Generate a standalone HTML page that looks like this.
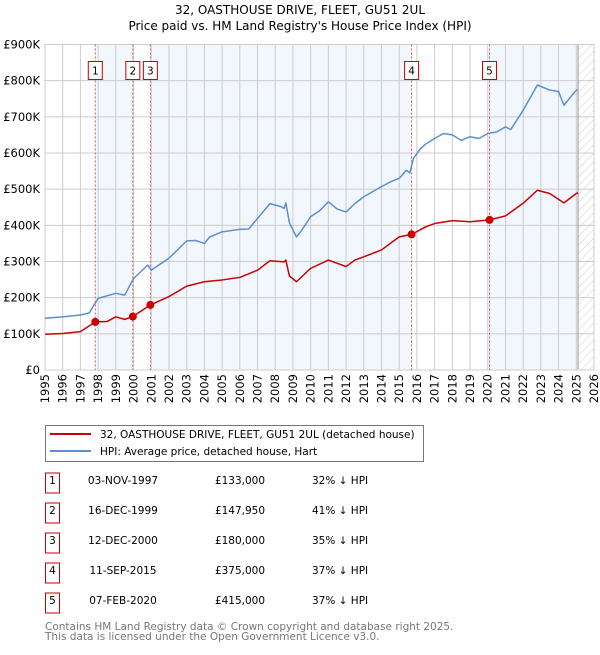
<!DOCTYPE html>
<html><head><meta charset="utf-8"><style>
body{margin:0;background:#fff;font-family:"Liberation Sans","DejaVu Sans",sans-serif;}
svg text{font-family:"DejaVu Sans","Liberation Sans",sans-serif;}
</style></head><body>
<svg id="c" width="600" height="650" xmlns="http://www.w3.org/2000/svg">
<defs><pattern id="hatch" width="6" height="6" patternUnits="userSpaceOnUse" patternTransform="rotate(45)"><line x1="0" y1="0" x2="0" y2="6" stroke="#ccc" stroke-width="1"/></pattern></defs>
<text x="300" y="14" text-anchor="middle" font-size="12">32, OASTHOUSE DRIVE, FLEET, GU51 2UL</text>
<text x="300" y="30" text-anchor="middle" font-size="12">Price paid vs. HM Land Registry's House Price Index (HPI)</text>
<g id="plot"></g>
<g>
<rect x="45.5" y="425.5" width="378" height="36" fill="#fff" stroke="#777"/>
<line x1="50" y1="434" x2="91" y2="434" stroke="#cc0000" stroke-width="2"/>
<text x="100" y="438" font-size="10.5">32, OASTHOUSE DRIVE, FLEET, GU51 2UL (detached house)</text>
<line x1="50" y1="451" x2="91" y2="451" stroke="#5b8fd0" stroke-width="2"/>
<text x="100" y="455" font-size="10.5">HPI: Average price, detached house, Hart</text>
</g>
<g id="table" font-size="10.5"></g>
<text x="45" y="630" font-size="10.5" fill="#777">Contains HM Land Registry data © Crown copyright and database right 2025.</text>
<text x="45" y="640" font-size="10.5" fill="#777">This data is licensed under the Open Government Licence v3.0.</text>
</svg>
<script>
const hpiYears=[1995,1996,1997,1997.5,1998,1999,1999.5,2000,2000.8,2001,2002,2003,2003.5,2004,2004.3,2005,2006,2006.5,2007,2007.7,2008.3,2008.5,2008.6,2008.8,2009.2,2009.5,2010,2010.5,2011,2011.5,2012,2012.5,2013,2014,2014.5,2015,2015.4,2015.6,2015.8,2016.2,2016.5,2017,2017.5,2018,2018.5,2019,2019.5,2020,2020.5,2021,2021.3,2022,2022.8,2023.5,2024,2024.3,2025,2025.1];
const hpiValues=[143,147,152,158,198,212,207,253,290,276,309,357,358,350,368,382,389,390,419,460,452,447,462,407,368,387,424,440,465,445,437,460,479,507,520,530,552,545,585,612,625,640,654,650,635,645,640,654,658,672,665,718,788,774,770,732,774,774];
const redYears=[1995,1996,1997,1997.84,1998.5,1999,1999.5,1999.96,2000.95,2002,2003,2004,2005,2006,2007,2007.7,2008.5,2008.6,2008.8,2009.2,2010,2011,2011.5,2012,2012.5,2013,2014,2015,2015.7,2016.5,2017,2018,2019,2020.1,2021,2022,2022.8,2023.5,2024.3,2025,2025.1];
const redValues=[99,101,106,133,134,147,140,148,180,203,232,244,249,256,276,302,299,304,260,244,281,304,295,286,304,313,332,368,375,396,405,413,410,415,426,461,497,488,462,488,490];
const saleYears=[1997.84,1999.96,2000.95,2015.7,2020.1];
const saleValues=[133,147.95,180,375,415];
const saleLabels=["1","2","3","4","5"];
const saleDates=["03-NOV-1997","16-DEC-1999","12-DEC-2000","11-SEP-2015","07-FEB-2020"];
const salePrices=["£133,000","£147,950","£180,000","£375,000","£415,000"];
const salePct=["32% ↓ HPI","41% ↓ HPI","35% ↓ HPI","37% ↓ HPI","37% ↓ HPI"];
const yTicks=[0,100,200,300,400,500,600,700,800,900];
const yTickLabels=["£0","£100K","£200K","£300K","£400K","£500K","£600K","£700K","£800K","£900K"];

const NS="http://www.w3.org/2000/svg";
const X0=45,X1=594,Y0=370,Y1=44.5;
const x=y=>X0+(y-1995)/(2026-1995)*(X1-X0);
const yv=v=>Y0-v/900*(Y0-Y1);
function mk(t,a,p){const e=document.createElementNS(NS,t);for(const k in a)e.setAttribute(k,a[k]);p.appendChild(e);return e;}
const P=document.getElementById('plot');
const bands=[[saleYears[0],saleYears[1]],[saleYears[2],saleYears[3]],[saleYears[4],2025.1]];
bands.forEach((b,i)=>{const r=mk('rect',{x:x(b[0]),y:Y1,width:x(b[1])-x(b[0]),height:Y0-Y1,fill:'#f2f6fd'},P);

});
const hr=mk('rect',{x:x(2025.1),y:Y1,width:X1-x(2025.1),height:Y0-Y1,fill:'url(#hatch)'},P);


for(let yr=1995;yr<=2026;yr++){const l=mk('line',{x1:x(yr),x2:x(yr),y1:Y1,y2:Y0,stroke:'#ccc','stroke-width':1},P);


const t=mk('text',{x:0,y:0,'font-size':11.5,'text-anchor':'end',transform:`translate(${x(yr)+4},374) rotate(-90)`},P);t.textContent=yr;

}
yTicks.forEach((v,i)=>{const l=mk('line',{x1:X0,x2:X1,y1:yv(v),y2:yv(v),stroke:'#ccc','stroke-width':1},P);


const t=mk('text',{x:40,y:yv(v)+4,'font-size':11.5,'text-anchor':'end'},P);t.textContent=yTickLabels[i];

});
mk('line',{x1:x(2025.1),x2:x(2025.1),y1:Y1,y2:Y0,stroke:'#999','stroke-width':1},P);
mk('rect',{x:X0,y:Y1,width:X1-X0,height:Y0-Y1,fill:'none',stroke:'#ccc'},P);
saleYears.forEach((s,i)=>{const l=mk('line',{x1:x(s),x2:x(s),y1:Y1,y2:Y0,stroke:'#e05555','stroke-width':1,'stroke-dasharray':'2,2'},P);


const bx=mk('rect',{x:x(s)-7,y:61.5,width:14,height:18,fill:'#fff',stroke:'#cc0000'},P);


const t=mk('text',{x:x(s),y:74.5,'font-size':10.5,'text-anchor':'middle'},P);t.textContent=saleLabels[i];});
function line(xs,vs,c,name){const p=mk('polyline',{points:xs.map((a,i)=>x(a)+','+yv(vs[i])).join(' '),fill:'none',stroke:c,'stroke-width':1.5,'stroke-linejoin':'round'},P);

}
line(hpiYears,hpiValues,'#5b8fd0','hpi-line');
line(redYears,redValues,'#cc0000','property-line');
saleYears.forEach((s,i)=>{const c=mk('circle',{cx:x(s),cy:yv(saleValues[i]),r:4,fill:'#cc0000'},P);

});
const T=document.getElementById('table');
saleLabels.forEach((lab,i)=>{const cy=483+i*30;
const r=mk('rect',{x:45.5,y:cy-10,width:14,height:20,fill:'#fff',stroke:'#cc0000'},T);


const a=mk('text',{x:52.5,y:cy+1,'text-anchor':'middle'},T);a.textContent=lab;
const d=mk('text',{x:123,y:cy+1,'text-anchor':'middle'},T);d.textContent=saleDates[i];


const p=mk('text',{x:240,y:cy+1,'text-anchor':'middle'},T);p.textContent=salePrices[i];


const q=mk('text',{x:312,y:cy+1},T);q.textContent=salePct[i];

});
</script>
</body></html>
